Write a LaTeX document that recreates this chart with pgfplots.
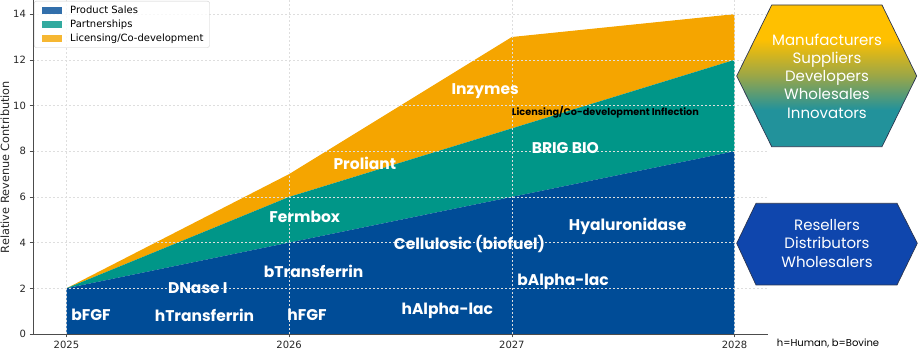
\documentclass[border=0pt]{standalone}
\usepackage{fontspec}
\setmainfont{DejaVu Sans}
\newfontfamily\pop{Poppins}
\usepackage{pgfplots}
\pgfplotsset{compat=1.18}
\definecolor{cBlue}{HTML}{004C97}
\definecolor{cTeal}{HTML}{009688}
\definecolor{cOrange}{HTML}{F5A500}
\definecolor{hexGold}{HTML}{FFC000}
\definecolor{hexOlive}{HTML}{9AA648}
\definecolor{hexTeal}{HTML}{22929B}
\definecolor{hexBlue}{HTML}{0F46AD}
\definecolor{hexLine}{HTML}{2B3550}
\pgfdeclareverticalshading{hexshade}{100bp}{color(0bp)=(hexTeal); color(38bp)=(hexTeal); color(50bp)=(hexOlive); color(63bp)=(hexGold); color(100bp)=(hexGold)}
\tikzset{lab/.style={font=\pop\bfseries\fontsize{15.5}{18}\selectfont, text=white}}
\begin{document}
\begin{tikzpicture}
\useasboundingbox (-33pt,-18pt) rectangle (887pt,334pt);
\begin{axis}[at={(0pt,0pt)}, anchor=south west, scale only axis,
  width=735pt, height=334pt,
  xmin=2024.85, xmax=2028.15, ymin=0, ymax=14.62,
  stack plots=y,
  axis on top,
  axis x line*=bottom, axis y line*=left,
  xtick={2025,2026,2027,2028}, xticklabels={2025,2026,2027,2028},
  ytick={0,2,4,6,8,10,12,14},
  grid=major,
  major grid style={dash pattern=on 2pt off 2pt, black!13, line width=0.5pt},
  tick style={black!70, line width=0.6pt},
  axis line style={black!70, line width=0.6pt},
  tick align=outside, major tick length=3.5pt,
  /pgf/number format/assume math mode=true,
  tick label style={font=\fontsize{10}{12}\selectfont, text=black!85},
  ylabel={Relative Revenue Contribution},
  ylabel style={font=\fontsize{11.3}{13}\selectfont, text=black!85},
  ylabel shift=-3pt,
  legend cell align=left,
  legend image code/.code={\fill[#1, sharp corners] (4pt,-3.3pt) rectangle (24pt,3.3pt); \path (0pt,0pt) (30pt,0pt);},
  legend style={at={(rel axis cs:0.0014,0.997)}, anchor=north west,
    draw=black!20, rounded corners=2pt, fill=white, fill opacity=0.8, text opacity=1,
    font=\fontsize{10}{12}\selectfont, inner xsep=4pt, inner ysep=2.5pt, row sep=1pt},
]
\addplot[fill=cBlue, draw=none] coordinates {(2025,2) (2026,4) (2027,6) (2028,8)} \closedcycle;
\addlegendentry{Product Sales}
\addplot[fill=cTeal, draw=none] coordinates {(2025,0) (2026,2) (2027,3) (2028,4)} \closedcycle;
\addlegendentry{Partnerships}
\addplot[fill=cOrange, draw=none] coordinates {(2025,0) (2026,1) (2027,4) (2028,2)} \closedcycle;
\addlegendentry{Licensing/Co-development}

\coordinate (L1) at (axis cs:2025.11,0.83);
\coordinate (L2) at (axis cs:2025.62,0.83);
\coordinate (L3) at (axis cs:2025.59,2.0);
\coordinate (L4) at (axis cs:2026.08,0.83);
\coordinate (L5) at (axis cs:2026.11,2.73);
\coordinate (L6) at (axis cs:2026.71,1.02);
\coordinate (L7) at (axis cs:2027.23,2.29);
\coordinate (L8) at (axis cs:2026.81,3.92);
\coordinate (L9) at (axis cs:2027.52,4.70);
\coordinate (L10) at (axis cs:2026.07,5.13);
\coordinate (L11) at (axis cs:2026.34,7.47);
\coordinate (L12) at (axis cs:2026.88,10.65);
\coordinate (L13) at (axis cs:2027.24,8.13);
\coordinate (L14) at (axis cs:2027.42,9.69);
\end{axis}
\node[lab] at (L1) {bFGF};
\node[lab] at (L2) {hTransferrin};
\node[lab] at (L3) {DNase I};
\node[lab] at (L4) {hFGF};
\node[lab] at (L5) {bTransferrin};
\node[lab] at (L6) {hAlpha-lac};
\node[lab] at (L7) {bAlpha-lac};
\node[lab] at (L8) {Cellulosic (biofuel)};
\node[lab] at (L9) {Hyaluronidase};
\node[lab] at (L10) {Fermbox};
\node[lab] at (L11) {Proliant};
\node[lab] at (L12) {Inzymes};
\node[lab] at (L13) {BRIG BIO};
\node[font=\pop\bfseries\fontsize{9.7}{11}\selectfont, text=black] at (L14) {Licensing/Co-development Inflection};
% hexagons
\shade[shading=hexshade, draw=hexLine, line width=0.7pt]
  (738.7pt,329pt) -- (849pt,329pt) -- (883.7pt,258pt) -- (849pt,187.3pt) -- (738.7pt,187.3pt) -- (703.7pt,258pt) -- cycle;
\node[font=\pop\fontsize{15}{18.3}\selectfont, text=white, align=center] at (794pt,258pt)
  {Manufacturers\\Suppliers\\Developers\\Wholesales\\Innovators};
\fill[hexBlue, draw=hexLine, line width=0.7pt]
  (723pt,130.7pt) -- (864pt,130.7pt) -- (884.3pt,90.7pt) -- (864pt,49pt) -- (723pt,49pt) -- (703.7pt,90.7pt) -- cycle;
\node[font=\pop\fontsize{15}{18.3}\selectfont, text=white, align=center] at (794pt,90.7pt)
  {Resellers\\Distributors\\Wholesalers};
\node[font=\pop\fontsize{10}{12}\selectfont, text=black] at (795pt,-9pt) {h=Human, b=Bovine};
\end{tikzpicture}
\end{document}
